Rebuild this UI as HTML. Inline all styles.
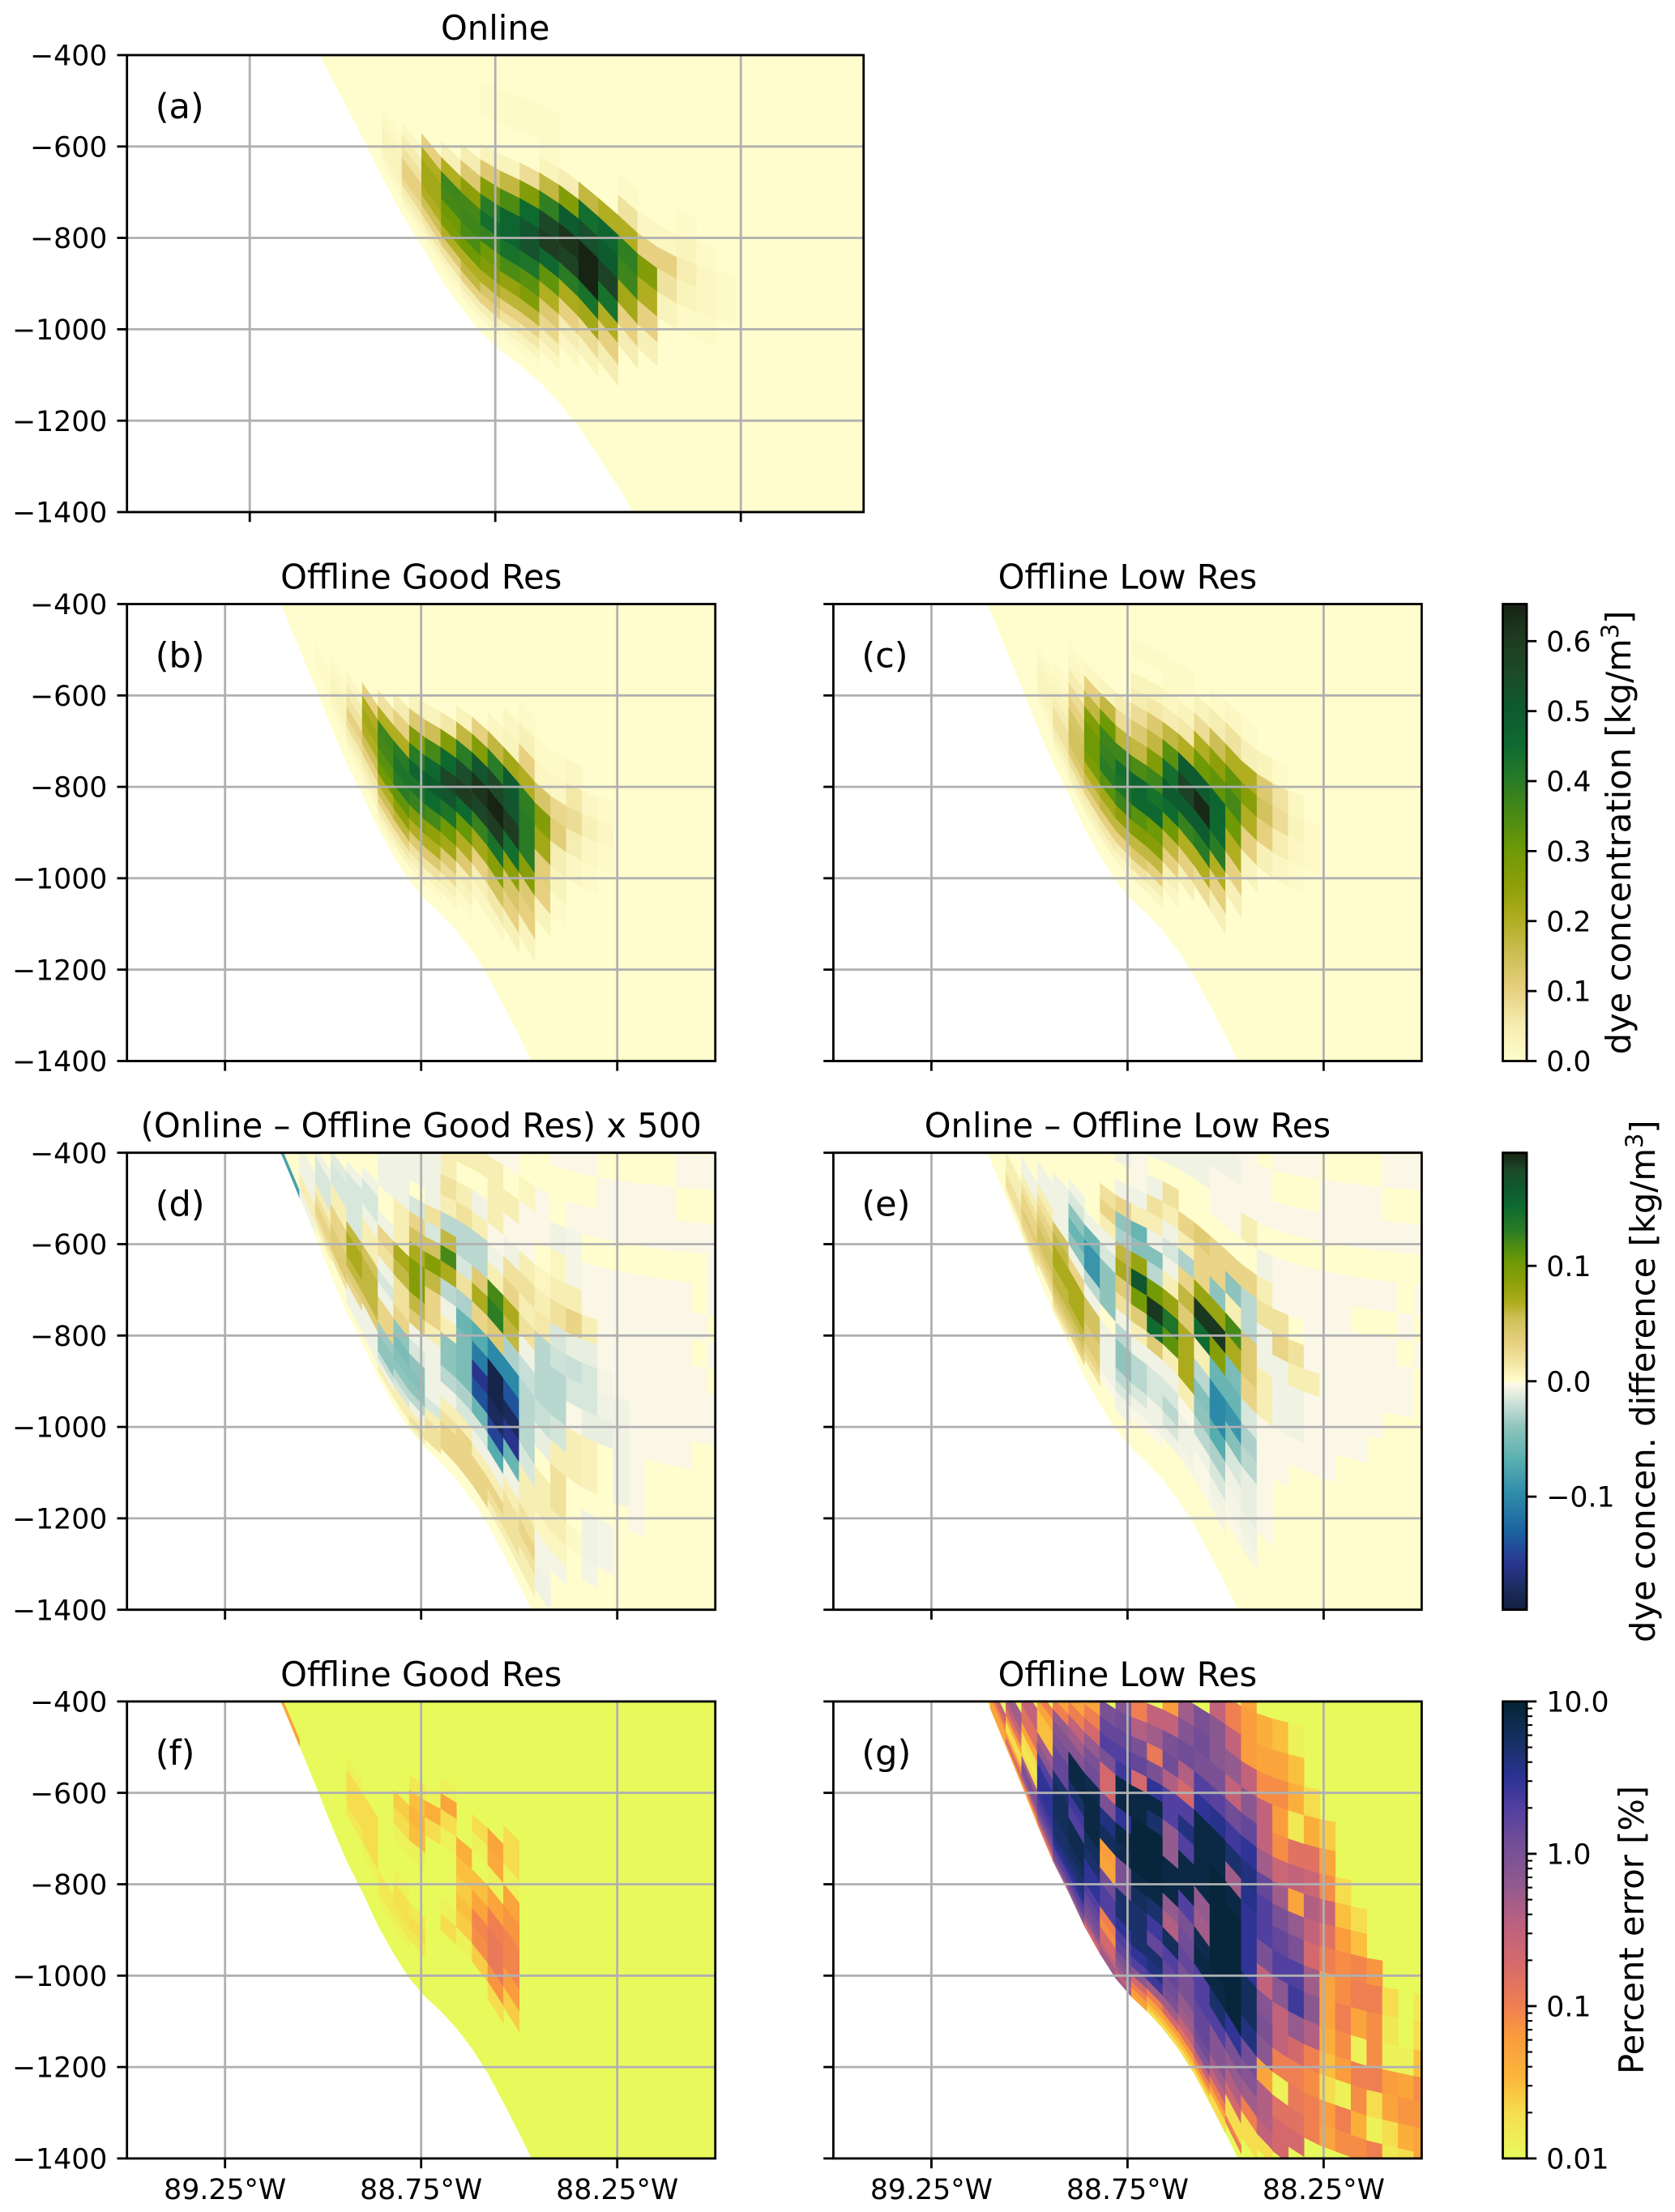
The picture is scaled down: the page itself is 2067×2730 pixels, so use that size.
<!DOCTYPE html>
<html lang="en">
<head>
<meta charset="utf-8">
<title>Dye concentration sections</title>
<style>
html,body{margin:0;padding:0;background:#fff;}
svg{display:block;font-family:"DejaVu Sans","Liberation Sans",sans-serif;}
</style>
</head>
<body>
<svg id="figure" xmlns="http://www.w3.org/2000/svg" width="2067" height="2730" viewBox="0 0 2067 2730">
<rect width="2067" height="2730" fill="#ffffff"/>
</svg>
<script>
// ---- grid data ----
const lonEdges = [-89.5,-89.46,-89.42,-89.38,-89.34,-89.3,-89.26,-89.22,-89.18,-89.14,-89.1,-89.06,-89.02,-88.98,-88.94,-88.9,-88.86,-88.82,-88.78,-88.74,-88.7,-88.66,-88.62,-88.58,-88.54,-88.5,-88.46,-88.42,-88.38,-88.34,-88.3,-88.26,-88.22,-88.18,-88.14,-88.1,-88.06,-88.02,-87.98];
const bottomDepth = [60,80,100,130,160,190,220,250,290,340,415,498,582,668,749,817,891,952,1006,1046,1078,1115,1160,1214,1278,1345,1415,1470,1510,1540,1565,1585,1600,1615,1630,1640,1650,1660,1670];
const sigmaFractions = [0,.008,.018,.03,.045,.063,.084,.108,.135,.165,.198,.233,.265,.3,.338,.375,.41,.442,.475,.51,.545,.585,.625,.665,.71,.755,.8,.85,.9,.95,1];
const lonTicks = [-89.25,-88.75,-88.25];
const lonTickLabels = ["89.25°W","88.75°W","88.25°W"];
const depthTicks = [-400,-600,-800,-1000,-1200,-1400];
const depthTickLabels = ["−400","−600","−800","−1000","−1200","−1400"];

// ---- panel values: [column, top layer, values going downward] ----
// concentration panels in 0.01 kg/m3
const panelAValues = [
[13,10,1,2,3,3,3,2,1],[14,11,2,5,7,10,10,8,5,3,1],[15,12,10,20,22,22,20,15,10,6,3,1],
[16,13,4,20,37,36,30,28,20,12,7,3,1],[17,14,5,12,25,36,37,35,30,20,17,10,5,2],
[18,15,3,12,27,40,44,38,30,27,20,13,10,5,2],[19,15,3,17,35,47,47,43,35,24,18,10,7,3,1],
[20,15,8,27,45,52,53,42,33,27,18,10,6,3,1],[21,16,3,17,39,56,60,46,32,20,12,9,5,2],
[22,16,5,27,50,62,58,40,21,10,5,2],[23,16,17,44,54,65,65,43,22,8,3],[24,16,20,47,50,58,43,20,10,5],
[25,18,1,7,20,39,37,22,10,5],[26,17,2,10,27,20,10,4],[27,17,2,10,7,3],[28,18,1,3,5,3,1],[29,17,1,2,2,1],[30,16,1,1],
[18,19,1,1],[19,19,1,1],[20,19,1,1],[21,19,1,1,1]];
const panelBValues = [
[12,8,1,1,1],[13,10,1,2,3,3,2,1],[14,11,2,5,7,10,8,5,3,1],[15,12,10,20,22,20,15,10,6,4,2],
[16,13,7,20,37,36,33,30,20,15,10,6,3,1],[17,14,5,10,20,40,42,40,32,25,18,10,6,3],
[18,15,3,12,27,40,47,42,38,27,20,12,7,4,2],[19,15,3,15,36,46,50,45,36,25,20,12,7,3,1],
[20,15,6,27,46,57,52,42,30,22,12,8,4,2],[21,16,3,17,40,55,60,45,31,20,12,5,3,1],
[22,16,10,27,52,62,57,38,22,10,4,2],[23,17,2,17,40,56,65,60,43,26,14,6,2],
[24,18,2,3,22,50,52,60,44,25,13,10,4],[25,19,1,4,10,20,39,40,40,26,12,10,3],
[26,18,1,2,13,27,22,11,10,3],[27,18,1,2,9,11,5,3,1],[28,18,2,6,8,5,2],[29,17,2,4,2,1],[30,17,1,2,1]];
const panelCValues = [
[13,11,1,2,3,3,2,1],[14,12,1,2,3,5,7,7,5,3,1],[15,15,1,2,5,8,10,13,14,14,12,8,5,3],
[16,15,2,10,17,27,30,30,28,20,15,10,5,3],[17,15,3,17,30,37,38,40,33,22,17,10,6,3],
[18,15,5,8,18,37,44,42,37,25,17,10,5,2],[19,17,3,5,8,12,17,35,47,46,33,27,17,12,7,3],
[20,17,3,6,12,17,27,37,43,46,30,26,17,10,5,2],[21,17,2,5,17,33,44,50,45,30,17,10,4,2],
[22,17,3,6,20,50,58,50,38,20,10,4],[23,18,3,8,20,30,50,64,50,40,20,8],
[24,19,1,5,15,25,32,47,46,40,20,10,4],[25,19,2,7,20,32,36,30,20,10,4],
[26,19,1,4,20,26,20,10,3],[27,18,3,12,14,10,4],[28,18,1,7,8,5,2],[29,17,2,3,2,1],[30,16,1,1],
[19,19,1],[20,19,1],[21,19,1,1],[22,19,1,1]];
// difference panels in 0.01 kg/m3
const panelDValues = [
[9,2,-8,-8,-8],[10,2,-8,-8,-8],
[11,10,-0.7,-0.7,-0.7,-0.7,1,1,1,-0.7,-0.7,-0.7],[12,13,-0.7,-1.5,-1.5,-1.5,1,2,3,3,2,1],
[13,15,-1.2,-1.5,-1.5,1,1,3,3,4,4,4,2],[14,16,-0.7,-1.5,-1.5,-1.5,-1.5,6,7,7,6,4,3,-0.7,-0.7,-0.7],
[15,17,-0.7,-1.5,-1.5,-0.7,1,1,5,6,6,6,4,-0.7,-0.7,-0.7,-0.7],[16,15,-0.7,3,2,-0.7,-1.5,-0.7,3,3,-3.5,-4,-4,-2,-0.7,1],
[17,19,-0.7,-0.7,1,1,1,7,6,2,2,3,-4,-5,-4.5,-4,-2.5,-1.5,1,1],[18,18,-1.5,3,5,7,9,9,6,4,-0.7,-1.5,-4,-4.5,-4,-2.5,-0.7,1,2,1],
[19,20,-0.7,-0.7,2,-1.5,5,9,6,3,3,1,-0.7,-0.7,-0.7,-0.7,-1.5,1,2,2,2],[20,21,1,2,1,-2.5,6,12,7,-2.5,-0.7,1,-4,-4,-2.5,-0.7,1,2,3,3,3],
[21,20,1,2,-2.5,-2.5,-1.5,2,-3,-6,-5,-5,-5,-3,-1.5,1,3,3,3,3],[22,20,-0.7,1,-2.5,-2.5,4,7,3,-7,-11,-16,-14,-6,-1.5,-0.7,1,3,3,3],
[23,18,-0.7,1,12,13,4,-10,-19,-19,-18,-15,-7,-0.7,1,3,2,1],[24,19,-0.7,2,3,7,6,-3,-10,-14,-18,-16,-6,-0.7,1,2,2,2,1],
[25,19,1,2,1,2,-0.7,-2,-2.6,-2.6,-2.6,-1.5,1,1,2,3,2,1,1],
[26,22,-0.3,-0.3,0,0.5,1,1.5,-2.6,-2.6,-2.6,-2,-1,0,1,1,0.5,-0.5,-0.5,-0.7,-0.7],
[27,24,-0.3,0,0,-0.7,0.5,1,2,-1.5,-1.8,-2.6,-2.6,-1.6,1,2,2,1,0.5,-0.5],
[28,24,-0.3,0,-0.3,-0.5,-0.5,1,3,-1,-2,-1.5,-0.3,1,1,0,0,0.3],
[29,24,-0.3,0,-0.3,0,-0.3,-0.3,1,-1,-1.5,-1.5,-1,0.8,0.8,0,-0.7,-0.7,-0.5],
[30,24,0,-0.3,-0.3,0,-0.3,-0.3,-0.3,-0.3,-0.5,-0.7,-1,0,0,0,-0.5,-0.5],
[31,24,0,-0.3,-0.3,0,-0.3,-0.3,-0.3,-0.3,-0.3,-0.7,-0.7,-0.7,-0.7],
[32,24,0,-0.3,-0.3,0,-0.3,-0.3,-0.3,-0.3,-0.3,-0.3,-0.3,-0.3,-0.3,-0.3],
[33,24,0,-0.3,-0.3,0,-0.3,-0.3,-0.3,-0.3,-0.3,-0.3,-0.3],
[34,24,0,-0.3,-0.3,0,-0.3,-0.3,-0.3,-0.3,-0.3,-0.3,-0.3],
[35,24,-0.3,0,-0.3,0,-0.3,-0.3,-0.3,-0.3,-0.3,-0.3,-0.3],
[36,24,-0.3,0,-0.3,0,0,-0.3,0,-0.3,-0.3,-0.3],
[37,25,-0.3,-0.3,0,-0.3,-0.3,-0.3,0,-0.3,0,-0.3,-0.3],
[16,20,-0.7,-0.7,-0.7],[17,21,-0.7,-0.7],[18,22,-0.7,-0.7,-0.7],[19,23,-0.3,-0.7,-0.7],[20,24,-0.3,-0.3,1],[21,24,-0.3,1,1],[22,24,-0.3,-0.7,1],
[23,24,-0.3,-0.3,1,1,1,-0.3],[24,25,-0.3,-0.3,-0.3,0,1,-0.3],[25,25,-0.3,-0.3,0,0.5,-0.3,-0.3]];
const panelEValues = [
[11,9,1,1,1,2,2,2,1],[12,12,-0.7,-0.7,1,2,3,3,4,3,3,2,1],
[13,14,-0.7,-0.7,1,2,3,4,5,5,4,3,2],[14,15,-0.7,-0.7,-0.7,-0.7,5,6,7,7,6,6,5,4,3,2,1],
[15,16,-0.7,-1.5,-4,-6,-4,-0.7,3,7,7,7,6,5,4,3],[16,15,-0.7,-6,-9,-9,-2.5,-0.7,5,5,4,4,3,2],
[17,18,2,3,1,-0.7,-1.5,-4,-4,-4,0,-0.7,-0.7,-0.7,-0.7,-0.3],[18,19,-0.7,3,-4,-3,6,7,4,2,-0.7,-2.5,-4,-4,-2.5,-1.5,-0.7,-0.7],
[19,20,-0.3,-0.7,1,-6,-4.5,8,17,10,4,1,-0.7,-2.5,-2.5,-1.5,-0.7,-0.3],[20,20,-0.7,2,1,-0.7,-4.5,-2.5,10,19,15,4,-0.7,-1.5,-1.5,-0.7,-0.7,-0.3],
[21,20,2,1,-0.7,-1.5,-0.7,1,8,14,11,1,-0.7,-1.5,-2.5,-1.5,-0.7],[22,19,3,1,-3,3,6,4,7,7,7,1,-0.3,-0.7,-0.7,-0.5],
[23,19,4,3,3,8,19,15,1,-2.5,-4.5,-4,-2.5,-0.7,-0.3,-0.3],[24,19,3,3,-4,8,19,9,-6,-10,-10,-7,-3,-1.5,-0.7,-0.5],
[25,19,3,-4,1,12,7,-5,-6,-9,-4.5,-1.5,-0.7,-0.5,-0.3],[26,19,3,-2.5,-2.5,4,4,3,-1.5,-3,-2.5,-1,-1,-0.7,-0.5],
[27,20,-0.7,1,2,-0.7,-0.7,1,1,-0.3,-0.3,-0.3,-0.3,-0.3],[28,18,2,3,-0.7,-0.7,-0.7,-0.3,-0.3],[29,17,2,1,-0.7,-0.7,-0.3],[30,18,-0.3,-0.3,1,-0.3,-0.3,-0.3],
[18,23,-0.7,-0.7,-0.7],[19,23,-0.7,-0.7,-0.3],[20,24,-0.3,1,-0.7],[21,24,1,1,-0.7],[22,24,1,-0.7,-0.7],[23,25,-0.3,1,-0.7,-0.7],[24,25,-0.3,-0.7,-0.7,-0.3,-0.3],
[25,25,-0.3,-0.3,-0.7,-0.3,-0.3],[26,25,-0.3,-0.3,-0.3,-0.3,1],[27,25,-0.3,0,-0.3,-0.3],
[28,24,-0.3,0,-0.3,0,-0.3,-0.3],[29,24,-0.3,0,-0.3,0,-0.3,-0.3],[30,24,-0.3,0,-0.3,0,-0.3,-0.3],
[31,24,0,-0.3,-0.3,0,-0.3,-0.3,-0.3,-0.3,-0.3,-0.3,-0.3,-0.3],[32,24,0,-0.3,-0.3,0,-0.3,-0.3,-0.3,-0.3,-0.3,-0.3,-0.3],
[33,24,0,-0.3,-0.3,0,-0.3,0,-0.3,-0.3,-0.3,-0.3,-0.3],[34,24,0,-0.3,-0.3,0,-0.3,0,-0.3,-0.3,-0.3,-0.3],
[35,24,-0.3,0,-0.3,0,-0.3,0,-0.3,-0.3,-0.3],[36,24,-0.3,0,-0.3,0,0,-0.3,0,-0.3,-0.3],[37,25,-0.3,-0.3,0,-0.3,0,-0.3,0,-0.3]];
// percent-error panels in percent
const panelFValues = [
[9,2,.05,.05,.05],[10,2,.05,.05,.05],
[14,12,.012,.02,.02,.02,.015],[15,11,.02,.02,.02,.02,.012],[16,7,.015,.015,.012],
[17,14,.025,.02,.012,.01,.01,.012,.018,.018,.015,.012],[18,16,.015,.03,.035,.03,.012,.01,.01,.01,.015,.02,.015],
[19,16,.012,.04,.02],[20,17,.012,.05,.02,.012,.01,.01,.01,.012,.02],[21,14,.04,.03,.025,.03,.025,.012],
[22,16,.02,.012,.01,.03,.05,.09,.08,.025],[23,16,.05,.045,.012,.05,.1,.12,.12,.07,.02],[24,17,.02,.02,.012,.05,.07,.09,.09,.06,.025]];
const panelGValues = [
[10,7,.3,.2,.1,.06,.05,.05,.05,.05],[11,11,.5,.5,.3,.15,.05,.02,.02,.05,.1,.3,.1,.05],
[12,14,.3,.3,.15,.15,.05,.02,.015,.02,.5,1,1,.6,.3,.1,.05],
[13,16,.1,.05,.03,.03,.5,.7,2,3,3,3,2.5,2,1.5,1,.6,.3,.1],
[14,18,.05,.1,.6,.8,1,1.5,1.5,5,6,6,6,5,5,4,3,2,1.5,1,.5],
[15,19,.05,.1,.3,.5,.8,8,8,5,2.5,2,7,7,6,5,4,3,2,1.5,1,.6],
[16,20,.05,.1,.2,.6,1,1.2,7,8,8,8,6,5,3,3,2,1.5,1.2,1,.7,.4,.2],
[17,20,1,1.5,2,1,.2,.2,1,4,6,.06,.05,1.2,2,2,.1,.08,.2,.2,.3,.5,.5],
[18,21,.8,1.2,1.5,2,2.5,8,8,3,8,7,1,1,5,5,3,2,1.5,1,.7,.5,.3,.5],
[19,21,.1,.4,1,1.5,.2,8,8,9,9,9,8,6,5,5,5,3,2,.7,.2,.1,.06,.05],
[20,21,.3,.5,.12,1,3,8,5,9,9,9,8,5,2.5,1.5,5,4,2.5,.5,.1,.05,.03,.02],
[21,22,.06,.3,1,1.2,.4,2,2,.6,.6,8,8,.6,.4,6,2,1.5,1.2,1,.5,.2,.06,.03,.02],
[22,22,.5,.8,1.2,.4,.2,2,4,2,8,8,2,1,1.2,1.5,1,1,.6,.5,.3,.15,.06,.03,.02],
[23,22,1,1.2,1,2,3,8,8,8,8,.6,.5,7,8,2,2,1.5,1.5,1.2,.8,.3,.1,.04,.02],
[24,23,.3,.7,.7,1,1.8,3.5,8,8,9,9,9,9,9,8,5,2,.8,.8,.5,.3,.1,.05,.02,.02],
[25,23,.1,.3,.6,.3,1.2,2.5,5,.5,8,9,9,9,9,9,3,1,.6,.4,.2,.02,.02,.1],
[26,24,.05,.06,.06,.3,.7,1.5,3,4,3.5,3,3,3,6,6,4,1.2,.8,.5,.1,.02,.02],
[27,24,.01,.04,.05,.08,.3,.3,.5,1.5,2,2,1,.3,.8,1,.7,.05,.4,.4,.3,.02],
[28,23,.03,.05,.08,.06,.08,.25,.5,1,1.5,2,.7,.3,.3,.1,.012,.15,.2,.2],
[29,23,.012,.03,.04,.015,.15,.3,.05,.6,1,2,2.5,.6,.2,.1,.12,.15,.2],
[30,21,.02,.04,.15,.25,.4,.3,.2,.5,.7,.4,.1,.08,.1,.1],
[31,20,.025,.05,.08,.25,.15,.1,.05,.05,.04,.03,.02,.06,.05],
[32,18,.02,.03,.06,.08,.08,.1,.08,.06,.012,.1,.08],
[33,17,.02,.03,.09,.1,.05,.012,.1,.08,.04,.08],
[34,15,.07,.1,.08,.08,.1,.02,.012,.1],
[35,14,.02,.015,.012,.06,.05,.02,.015],
[36,12,.012,.05,.07,.04,.02],
[37,14,.015,.02,.03,.08,.07,.05,.05]];

// ---- colorbar data ----
const concentrationTicks = [0,0.1,0.2,0.3,0.4,0.5,0.6];
const concentrationTickLabels = ["0.0","0.1","0.2","0.3","0.4","0.5","0.6"];
const differenceTicks = [-0.1,0,0.1];
const differenceTickLabels = ["−0.1","0.0","0.1"];
const errorTicks = [0.01,0.1,1,10];
const errorTickLabels = ["0.01","0.1","1.0","10.0"];
const errorMinorTicks = [.02,.03,.04,.05,.06,.07,.08,.09,.2,.3,.4,.5,.6,.7,.8,.9,2,3,4,5,6,7,8,9];
const concentrationRange = [0,0.653];
const differenceRange = [-0.198,0.198];
const errorRange = [0.01,10];

// ---- colormap anchors ----
const speedStops = [[0,"#fffdcd"],[.08,"#f5ecb0"],[.15,"#e8d283"],[.23,"#cdbf55"],[.31,"#b0ad20"],[.38,"#8f9f0a"],[.46,"#6f9a05"],[.54,"#4a8a15"],[.61,"#2a7c25"],[.69,"#0e6b30"],[.77,"#0e5a30"],[.85,"#1c4a2a"],[.92,"#1f3c22"],[1,"#172313"]];
const deltaStops = [[0,"#112040"],[.04,"#1a2a58"],[.1,"#2a3590"],[.17,"#1b62a0"],[.25,"#2d8aa8"],[.33,"#5ab0b0"],[.4,"#8fc4bc"],[.42,"#a8cfc8"],[.45,"#c8dfd6"],[.475,"#e8efe0"],[.495,"#fdf8e8"],[.5,"#fffdcd"],[.54,"#f3e6a5"],[.58,"#e8d283"],[.64,"#cdbf55"],[.67,"#b0ad20"],[.72,"#8a9f08"],[.76,"#6f9a05"],[.8,"#4a8a15"],[.83,"#2a7c25"],[.88,"#0e6b30"],[.92,"#0e5a30"],[.96,"#1c4a2a"],[1,"#172313"]];
const thermalStops = [[0,"#e8fa5b"],[.1,"#f6dd4e"],[.17,"#fbb93b"],[.27,"#fa9a3c"],[.33,"#f08050"],[.42,"#d86b6a"],[.52,"#b96082"],[.6,"#8f5a8f"],[.7,"#6f4c98"],[.77,"#503fa0"],[.83,"#2c3395"],[.92,"#15305f"],[1,"#042333"]];

const SVGNS = "http://www.w3.org/2000/svg";
const figure = document.getElementById("figure");
const TICK_FONT = 34.72, LABEL_FONT = 41.67, LINE_W = 2.8;

function make(tag, attrs, parent) {
  const el = document.createElementNS(SVGNS, tag);
  for (const key in attrs) el.setAttribute(key, attrs[key]);
  parent.appendChild(el);
  return el;
}
function hexToRgb(h) { return [parseInt(h.slice(1,3),16),parseInt(h.slice(3,5),16),parseInt(h.slice(5,7),16)]; }
function sampleStops(stops, t) {
  t = Math.max(0, Math.min(1, t));
  for (let i = 1; i < stops.length; i++) {
    if (t <= stops[i][0]) {
      const a = stops[i-1], b = stops[i], f = (t - a[0]) / (b[0] - a[0]);
      const ca = hexToRgb(a[1]), cb = hexToRgb(b[1]);
      return "rgb(" + ca.map((c, j) => Math.round(c + (cb[j] - c) * f)).join(",") + ")";
    }
  }
  return stops[stops.length-1][1];
}
const normConcentration = v => (v - concentrationRange[0]) / (concentrationRange[1] - concentrationRange[0]);
const normDifference = v => (v - differenceRange[0]) / (differenceRange[1] - differenceRange[0]);
const normError = v => Math.log10(v / errorRange[0]) / Math.log10(errorRange[1] / errorRange[0]);

const concentrationColor = units => sampleStops(speedStops, normConcentration(units * 0.01));
const differenceColor = units => sampleStops(deltaStops, normDifference(units * 0.01));
const errorColor = percent => sampleStops(thermalStops, normError(percent));

const panelGeometry = [
  {id:"a",left:156.7,top:68,width:909,title:"Online",yLabels:true,xLabels:false,data:panelAValues,color:concentrationColor,base:0},
  {id:"b",left:156.7,top:745.5,width:726,title:"Offline Good Res",yLabels:true,xLabels:false,data:panelBValues,color:concentrationColor,base:0},
  {id:"c",left:1028.4,top:745.5,width:726,title:"Offline Low Res",yLabels:false,xLabels:false,data:panelCValues,color:concentrationColor,base:0},
  {id:"d",left:156.7,top:1422.7,width:726,title:"(Online – Offline Good Res) x 500",yLabels:true,xLabels:false,data:panelDValues,color:differenceColor,base:0},
  {id:"e",left:1028.4,top:1422.7,width:726,title:"Online – Offline Low Res",yLabels:false,xLabels:false,data:panelEValues,color:differenceColor,base:0},
  {id:"f",left:156.7,top:2099.9,width:726,title:"Offline Good Res",yLabels:true,xLabels:true,data:panelFValues,color:errorColor,base:0.01},
  {id:"g",left:1028.4,top:2099.9,width:726,title:"Offline Low Res",yLabels:false,xLabels:true,data:panelGValues,color:errorColor,base:0.01}
];
const PANEL_HEIGHT = 564;
const LON_MIN = -89.5, LON_MAX = -88.0, DEPTH_TOP = -400, DEPTH_BOTTOM = -1400;

function layerDepth(col, layer) { return -bottomDepth[col] * (1 - sigmaFractions[layer]); }

function drawPanel(p) {
  const xScale = lon => p.left + (lon - LON_MIN) / (LON_MAX - LON_MIN) * p.width;
  const yScale = z => p.top + (z - DEPTH_TOP) / (DEPTH_BOTTOM - DEPTH_TOP) * PANEL_HEIGHT;
  const bottom = p.top + PANEL_HEIGHT, right = p.left + p.width;

  const g = make("g", {}, figure);
  
  

  const clip = make("clipPath", {id:"clip-" + p.id}, g);
  make("rect", {x:p.left, y:p.top, width:p.width, height:PANEL_HEIGHT}, clip);

  const mesh = make("g", {"clip-path":"url(#clip-" + p.id + ")"}, g);
  
  

  // water column background at the panel's base value
  let pts = xScale(lonEdges[0]) + "," + (p.top - 50);
  for (let i = 0; i < lonEdges.length; i++) pts += " " + xScale(lonEdges[i]) + "," + yScale(-bottomDepth[i]);
  pts += " " + xScale(lonEdges[lonEdges.length-1]) + "," + (p.top - 50);
  const waterFill = make("polygon", {points:pts, fill:p.color(p.base)}, mesh);
  
  

  // individual cells from the value arrays
  p.data.forEach(row => {
    const col = row[0], topLayer = row[1];
    for (let n = 2; n < row.length; n++) {
      const layer = topLayer - (n - 2);
      if (layer < 0 || layer > 29) continue;
      const fill = p.color(row[n]);
      const quad = [
        [lonEdges[col], layerDepth(col, layer)],
        [lonEdges[col+1], layerDepth(col+1, layer)],
        [lonEdges[col+1], layerDepth(col+1, layer+1)],
        [lonEdges[col], layerDepth(col, layer+1)]
      ].map(v => xScale(v[0]).toFixed(2) + "," + yScale(v[1]).toFixed(2)).join(" ");
      const cell = make("polygon", {points:quad, fill:fill, stroke:fill, "stroke-width":0.6}, mesh);
      
      
    }
  });

  // grid
  lonTicks.forEach(lon => {
    const line = make("line", {x1:xScale(lon), x2:xScale(lon), y1:p.top, y2:bottom, stroke:"#b0b0b0", "stroke-width":LINE_W}, g);
    
    
  });
  depthTicks.forEach(z => {
    const line = make("line", {x1:p.left, x2:right, y1:yScale(z), y2:yScale(z), stroke:"#b0b0b0", "stroke-width":LINE_W}, g);
    
    
  });

  // ticks and labels
  depthTicks.forEach((z, i) => {
    const t = make("line", {x1:p.left - 12.2, x2:p.left, y1:yScale(z), y2:yScale(z), stroke:"#000", "stroke-width":LINE_W}, g);
    
    
    if (p.yLabels) {
      const label = make("text", {x:p.left - 24.3, y:yScale(z) + 12.6, "text-anchor":"end", "font-size":TICK_FONT, fill:"#000"}, g);
      label.textContent = depthTickLabels[i];
      
      
    }
  });
  lonTicks.forEach((lon, i) => {
    const t = make("line", {x1:xScale(lon), x2:xScale(lon), y1:bottom, y2:bottom + 12.2, stroke:"#000", "stroke-width":LINE_W}, g);
    
    
    if (p.xLabels) {
      const label = make("text", {x:xScale(lon), y:bottom + 50, "text-anchor":"middle", "font-size":TICK_FONT, fill:"#000"}, g);
      label.textContent = lonTickLabels[i];
      
      
    }
  });

  const frame = make("rect", {x:p.left, y:p.top, width:p.width, height:PANEL_HEIGHT, fill:"none", stroke:"#000", "stroke-width":LINE_W}, g);
  
  

  const title = make("text", {x:p.left + p.width / 2, y:p.top - 19, "text-anchor":"middle", "font-size":LABEL_FONT, fill:"#000"}, g);
  title.textContent = p.title;
  
  

  const letter = make("text", {x:p.left + 35, y:p.top + 78, "font-size":43, fill:"#000"}, g);
  letter.textContent = "(" + p.id + ")";
  
  
}

function drawColorbar(cfg) {
  const CB_LEFT = 1854.5, CB_W = 29.5;
  const yOf = v => cfg.top + PANEL_HEIGHT - cfg.norm(v) * PANEL_HEIGHT;
  const g = make("g", {}, figure);
  
  

  const defs = make("defs", {}, g);
  const grad = make("linearGradient", {id:cfg.name + "-grad", x1:0, y1:1, x2:0, y2:0}, defs);
  cfg.stops.forEach(s => {
    make("stop", {offset:s[0], "stop-color":s[1]}, grad);
  });
  const bar = make("rect", {x:CB_LEFT, y:cfg.top, width:CB_W, height:PANEL_HEIGHT, fill:"url(#" + cfg.name + "-grad)", stroke:"#000", "stroke-width":LINE_W}, g);
  
  

  cfg.ticks.forEach((v, i) => {
    const t = make("line", {x1:CB_LEFT + CB_W, x2:CB_LEFT + CB_W + 12.2, y1:yOf(v), y2:yOf(v), stroke:"#000", "stroke-width":LINE_W}, g);
    
    
    const label = make("text", {x:CB_LEFT + CB_W + 24.3, y:yOf(v) + 12.6, "font-size":TICK_FONT, fill:"#000"}, g);
    label.textContent = cfg.labels[i];
    
    
  });
  (cfg.minor || []).forEach(v => {
    const t = make("line", {x1:CB_LEFT + CB_W, x2:CB_LEFT + CB_W + 7, y1:yOf(v), y2:yOf(v), stroke:"#000", "stroke-width":2.1}, g);
    
    
  });

  const yMid = cfg.top + PANEL_HEIGHT / 2;
  const title = make("text", {transform:"translate(" + cfg.labelX + " " + yMid + ") rotate(-90)", "text-anchor":"middle", "font-size":LABEL_FONT, fill:"#000"}, g);
  
  
  const main = make("tspan", {}, title);
  main.textContent = cfg.label;
  if (cfg.superscript) {
    const sup = make("tspan", {dy:-15, "font-size":29}, title);
    sup.textContent = "3";
    const close = make("tspan", {dy:15}, title);
    close.textContent = "]";
  }
}

panelGeometry.forEach(drawPanel);
drawColorbar({name:"concentration-colorbar", top:745.5, norm:normConcentration, stops:speedStops, ticks:concentrationTicks, labels:concentrationTickLabels, label:"dye concentration [kg/m", superscript:true, labelX:2012});
drawColorbar({name:"difference-colorbar", top:1422.7, norm:normDifference, stops:deltaStops, ticks:differenceTicks, labels:differenceTickLabels, label:"dye concen. difference [kg/m", superscript:true, labelX:2042});
drawColorbar({name:"error-colorbar", top:2099.9, norm:normError, stops:thermalStops, ticks:errorTicks, labels:errorTickLabels, minor:errorMinorTicks, label:"Percent error [%]", superscript:false, labelX:2028});
</script>
</body>
</html>
